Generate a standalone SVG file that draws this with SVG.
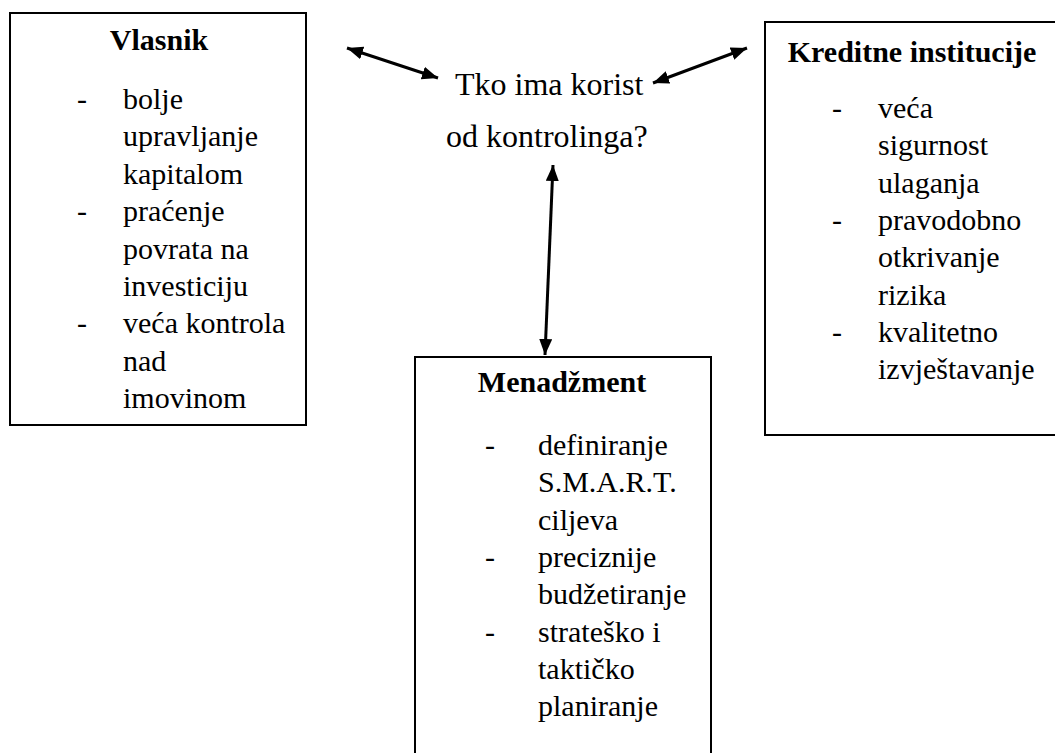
<svg xmlns="http://www.w3.org/2000/svg" width="1055" height="753" viewBox="0 0 1055 753">
  <defs>
    <marker id="head" markerUnits="userSpaceOnUse" markerWidth="18" markerHeight="14" refX="16" refY="6.5" orient="auto-start-reverse" viewBox="0 0 18 14">
      <path d="M0,0 L16,6.5 L0,13 z" fill="#000"/>
    </marker>
  </defs>
  <rect width="1055" height="753" fill="#fff"/>

  <g id="vlasnik" font-family="Liberation Serif" font-size="30">
    <rect x="10" y="13" width="296" height="412" fill="none" stroke="#000" stroke-width="2"/>
    <text font-weight="bold" text-anchor="middle" x="159" y="50">Vlasnik</text>
    <text x="77" y="109">-</text>
    <text x="123" y="109">bolje</text>
    <text x="123" y="146.4">upravljanje</text>
    <text x="123" y="183.8">kapitalom</text>
    <text x="77" y="221.2">-</text>
    <text x="123" y="221.2">praćenje</text>
    <text x="123" y="258.6">povrata na</text>
    <text x="123" y="296">investiciju</text>
    <text x="77" y="333.4">-</text>
    <text x="123" y="333.4">veća kontrola</text>
    <text x="123" y="370.8">nad</text>
    <text x="123" y="408.2">imovinom</text>
  </g>

  <g id="pitanje" font-family="Liberation Serif" font-size="32">
    <text x="455" y="95">Tko ima korist</text>
    <text x="446" y="147">od kontrolinga?</text>
  </g>

  <g id="kreditne" font-family="Liberation Serif" font-size="30">
    <rect x="765" y="22" width="300" height="413" fill="none" stroke="#000" stroke-width="2"/>
    <text font-weight="bold" text-anchor="middle" x="912" y="62">Kreditne institucije</text>
    <text x="832" y="118">-</text>
    <text x="878" y="118">veća</text>
    <text x="878" y="155.3">sigurnost</text>
    <text x="878" y="192.6">ulaganja</text>
    <text x="832" y="229.9">-</text>
    <text x="878" y="229.9">pravodobno</text>
    <text x="878" y="267.2">otkrivanje</text>
    <text x="878" y="304.5">rizika</text>
    <text x="832" y="341.8">-</text>
    <text x="878" y="341.8">kvalitetno</text>
    <text x="878" y="379.1">izvještavanje</text>
  </g>

  <g id="menadzment" font-family="Liberation Serif" font-size="30">
    <rect x="415" y="357" width="296" height="410" fill="none" stroke="#000" stroke-width="2"/>
    <text font-weight="bold" text-anchor="middle" x="562" y="392">Menadžment</text>
    <text x="485" y="455">-</text>
    <text x="538" y="455">definiranje</text>
    <text x="538" y="492.3">S.M.A.R.T.</text>
    <text x="538" y="529.6">ciljeva</text>
    <text x="485" y="566.9">-</text>
    <text x="538" y="566.9">preciznije</text>
    <text x="538" y="604.2">budžetiranje</text>
    <text x="485" y="641.5">-</text>
    <text x="538" y="641.5">strateško i</text>
    <text x="538" y="678.8">taktičko</text>
    <text x="538" y="716.1">planiranje</text>
  </g>

  <g id="connectors" stroke="#000" stroke-width="3" fill="none" marker-start="url(#head)" marker-end="url(#head)">
    <line x1="347" y1="48" x2="438" y2="78"/>
    <line x1="653" y1="83" x2="747" y2="48"/>
    <line x1="553" y1="165" x2="545" y2="355"/>
  </g>
</svg>
